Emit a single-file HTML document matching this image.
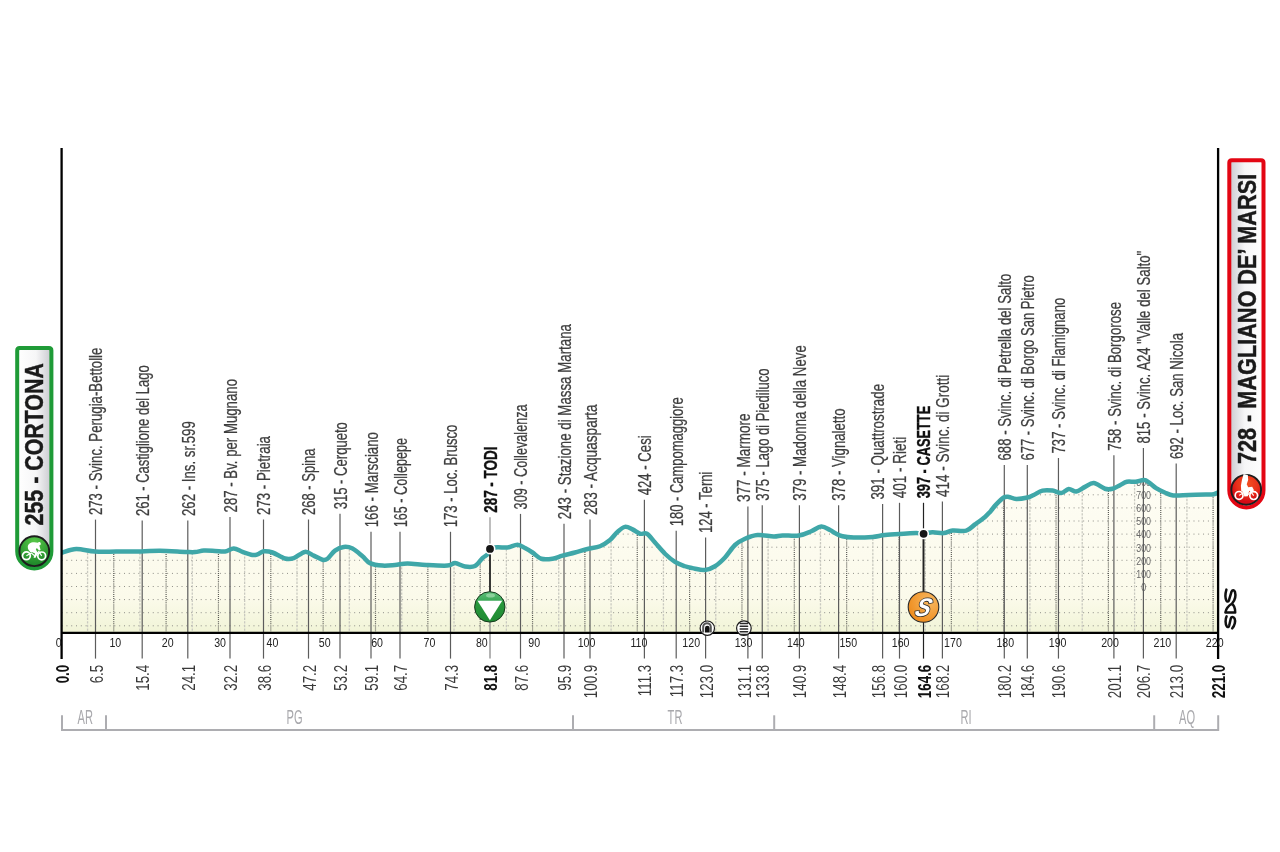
<!DOCTYPE html>
<html><head><meta charset="utf-8"><style>
html,body{margin:0;padding:0;background:#fff;width:1280px;height:852px;overflow:hidden}
svg text{font-family:"Liberation Sans",sans-serif}
svg{will-change:transform}
</style></head><body>
<svg width="1280" height="852" viewBox="0 0 1280 852" style="display:block">
<defs>
<linearGradient id="fg" x1="0" y1="480" x2="0" y2="632" gradientUnits="userSpaceOnUse"><stop offset="0" stop-color="#fefdf4"/><stop offset="0.5" stop-color="#fcfbee"/><stop offset="0.78" stop-color="#fbfaea"/><stop offset="1" stop-color="#f1f4d7"/></linearGradient>
<linearGradient id="bgS" x1="0" y1="0" x2="1" y2="0"><stop offset="0" stop-color="#ffffff"/><stop offset="0.55" stop-color="#f6f6f7"/><stop offset="1" stop-color="#c9c9cf"/></linearGradient>
<linearGradient id="bgF" x1="0" y1="0" x2="1" y2="0"><stop offset="0" stop-color="#c9c9cf"/><stop offset="0.45" stop-color="#f6f6f7"/><stop offset="1" stop-color="#ffffff"/></linearGradient>
<radialGradient id="gG" cx="0.5" cy="0.2" r="0.85"><stop offset="0" stop-color="#58c848"/><stop offset="1" stop-color="#177f26"/></radialGradient>
<radialGradient id="gR" cx="0.55" cy="0.3" r="0.6"><stop offset="0" stop-color="#f25022"/><stop offset="0.6" stop-color="#e8301a"/><stop offset="1" stop-color="#d40a16"/></radialGradient>
<radialGradient id="gO" cx="0.7" cy="0.3" r="0.8"><stop offset="0" stop-color="#f8b860"/><stop offset="1" stop-color="#ee8a1a"/></radialGradient>
<linearGradient id="gS" x1="0" y1="0" x2="0" y2="1"><stop offset="0" stop-color="#5dc07a"/><stop offset="0.3" stop-color="#3aa856"/><stop offset="0.31" stop-color="#2a9a3e"/><stop offset="1" stop-color="#1f8a32"/></linearGradient>

<clipPath id="cp"><path d="M61.60,552.80 C61.75,552.75 60.06,553.13 62.50,552.50 C64.94,551.87 70.83,549.17 76.25,549.00 C81.67,548.83 88.33,551.07 95.00,551.50 C101.67,551.93 108.54,551.60 116.25,551.60 C123.96,551.60 133.96,551.64 141.25,551.50 C148.54,551.36 152.71,550.68 160.00,550.75 C167.29,550.82 179.17,551.67 185.00,551.90 C190.83,552.12 191.88,552.32 195.00,552.10 C198.12,551.88 200.42,550.80 203.75,550.60 C207.08,550.40 211.46,550.75 215.00,550.90 C218.54,551.05 221.88,551.90 225.00,551.50 C228.12,551.10 230.83,548.43 233.75,548.50 C236.67,548.57 239.38,550.82 242.50,551.90 C245.62,552.98 250.00,554.58 252.50,555.00 C255.00,555.42 255.62,555.02 257.50,554.40 C259.38,553.77 261.25,551.57 263.75,551.25 C266.25,550.93 268.96,551.29 272.50,552.50 C276.04,553.71 281.46,557.57 285.00,558.50 C288.54,559.43 290.42,559.20 293.75,558.10 C297.08,557.00 301.67,552.32 305.00,551.90 C308.33,551.48 310.83,554.29 313.75,555.60 C316.67,556.91 320.21,559.23 322.50,559.75 C324.79,560.27 325.42,560.27 327.50,558.75 C329.58,557.23 332.29,552.58 335.00,550.60 C337.71,548.62 340.83,547.25 343.75,546.90 C346.67,546.55 349.38,546.94 352.50,548.50 C355.62,550.06 359.58,553.82 362.50,556.25 C365.42,558.68 366.67,561.54 370.00,563.10 C373.33,564.66 378.33,565.28 382.50,565.60 C386.67,565.92 390.83,565.35 395.00,565.00 C399.17,564.65 402.29,563.50 407.50,563.50 C412.71,563.50 419.58,564.65 426.25,565.00 C432.92,565.35 442.71,565.92 447.50,565.60 C452.29,565.28 452.08,562.95 455.00,563.10 C457.92,563.25 461.67,566.02 465.00,566.50 C468.33,566.98 472.08,567.40 475.00,566.00 C477.92,564.60 480.42,560.03 482.50,558.10 C484.58,556.17 486.25,555.92 487.50,554.40 C488.75,552.88 488.33,550.19 490.00,549.00 C491.67,547.81 494.58,547.50 497.50,547.25 C500.42,547.00 504.17,547.92 507.50,547.50 C510.83,547.08 514.58,544.65 517.50,544.75 C520.42,544.85 522.50,546.81 525.00,548.10 C527.50,549.39 529.79,550.73 532.50,552.50 C535.21,554.27 537.92,557.71 541.25,558.75 C544.58,559.79 548.96,559.27 552.50,558.75 C556.04,558.23 558.75,556.64 562.50,555.60 C566.25,554.56 570.83,553.60 575.00,552.50 C579.17,551.40 583.33,550.04 587.50,549.00 C591.67,547.96 596.25,547.75 600.00,546.25 C603.75,544.75 607.08,542.39 610.00,540.00 C612.92,537.61 615.00,534.08 617.50,531.90 C620.00,529.72 622.50,527.32 625.00,526.90 C627.50,526.48 630.00,528.26 632.50,529.40 C635.00,530.54 637.60,533.02 640.00,533.75 C642.40,534.48 644.40,532.29 646.90,533.75 C649.40,535.21 651.98,539.17 655.00,542.50 C658.02,545.83 661.67,550.52 665.00,553.75 C668.33,556.98 671.67,559.82 675.00,561.90 C678.33,563.98 682.08,565.22 685.00,566.25 C687.92,567.28 689.17,567.48 692.50,568.10 C695.83,568.73 701.25,570.31 705.00,570.00 C708.75,569.69 711.67,568.33 715.00,566.25 C718.33,564.17 721.67,561.04 725.00,557.50 C728.33,553.96 731.67,548.12 735.00,545.00 C738.33,541.88 741.25,540.42 745.00,538.75 C748.75,537.08 752.71,535.38 757.50,535.00 C762.29,534.62 769.58,536.43 773.75,536.50 C777.92,536.57 778.33,535.55 782.50,535.40 C786.67,535.25 793.96,536.29 798.75,535.60 C803.54,534.91 807.50,532.77 811.25,531.25 C815.00,529.73 818.12,526.71 821.25,526.50 C824.38,526.29 827.71,528.90 830.00,530.00 C832.29,531.10 832.92,532.06 835.00,533.10 C837.08,534.14 839.38,535.52 842.50,536.25 C845.62,536.98 848.75,537.39 853.75,537.50 C858.75,537.61 867.29,537.32 872.50,536.90 C877.71,536.48 879.79,535.52 885.00,535.00 C890.21,534.48 898.54,534.07 903.75,533.75 C908.96,533.43 912.96,533.12 916.25,533.10 C919.54,533.08 920.79,533.74 923.50,533.60 C926.21,533.46 929.12,532.33 932.50,532.25 C935.88,532.17 940.42,533.38 943.75,533.10 C947.08,532.83 948.75,531.02 952.50,530.60 C956.25,530.18 962.50,531.63 966.25,530.60 C970.00,529.57 971.88,526.68 975.00,524.40 C978.12,522.12 982.50,518.98 985.00,516.90 C987.50,514.82 988.12,513.98 990.00,511.90 C991.88,509.82 993.96,506.80 996.25,504.40 C998.54,502.00 1001.67,498.75 1003.75,497.50 C1005.83,496.25 1006.67,496.65 1008.75,496.90 C1010.83,497.15 1013.12,498.90 1016.25,499.00 C1019.38,499.10 1024.58,498.17 1027.50,497.50 C1030.42,496.83 1031.25,496.15 1033.75,495.00 C1036.25,493.85 1039.38,491.33 1042.50,490.60 C1045.62,489.87 1049.38,490.18 1052.50,490.60 C1055.62,491.02 1058.54,493.37 1061.25,493.10 C1063.96,492.83 1066.25,489.27 1068.75,489.00 C1071.25,488.73 1073.54,491.85 1076.25,491.50 C1078.96,491.15 1082.08,488.30 1085.00,486.90 C1087.92,485.50 1090.42,482.79 1093.75,483.10 C1097.08,483.41 1101.88,487.81 1105.00,488.75 C1108.12,489.69 1110.00,489.34 1112.50,488.75 C1115.00,488.16 1117.60,486.37 1120.00,485.20 C1122.40,484.03 1124.32,482.32 1126.90,481.75 C1129.48,481.18 1132.65,482.04 1135.50,481.75 C1138.35,481.46 1141.72,479.86 1144.00,480.00 C1146.28,480.14 1147.18,481.23 1149.20,482.60 C1151.22,483.97 1153.52,486.55 1156.10,488.20 C1158.68,489.85 1161.83,491.30 1164.70,492.50 C1167.57,493.70 1169.29,494.98 1173.30,495.40 C1177.31,495.82 1183.32,495.13 1188.75,495.00 C1194.18,494.87 1201.74,494.72 1205.90,494.60 C1210.06,494.48 1211.67,494.67 1213.70,494.30 C1215.73,493.93 1217.37,492.72 1218.10,492.40 L1218.1,632.9 L61.6,632.9 Z"/></clipPath>
</defs>
<rect width="1280" height="852" fill="#fff"/>
<path d="M61.60,552.80 C61.75,552.75 60.06,553.13 62.50,552.50 C64.94,551.87 70.83,549.17 76.25,549.00 C81.67,548.83 88.33,551.07 95.00,551.50 C101.67,551.93 108.54,551.60 116.25,551.60 C123.96,551.60 133.96,551.64 141.25,551.50 C148.54,551.36 152.71,550.68 160.00,550.75 C167.29,550.82 179.17,551.67 185.00,551.90 C190.83,552.12 191.88,552.32 195.00,552.10 C198.12,551.88 200.42,550.80 203.75,550.60 C207.08,550.40 211.46,550.75 215.00,550.90 C218.54,551.05 221.88,551.90 225.00,551.50 C228.12,551.10 230.83,548.43 233.75,548.50 C236.67,548.57 239.38,550.82 242.50,551.90 C245.62,552.98 250.00,554.58 252.50,555.00 C255.00,555.42 255.62,555.02 257.50,554.40 C259.38,553.77 261.25,551.57 263.75,551.25 C266.25,550.93 268.96,551.29 272.50,552.50 C276.04,553.71 281.46,557.57 285.00,558.50 C288.54,559.43 290.42,559.20 293.75,558.10 C297.08,557.00 301.67,552.32 305.00,551.90 C308.33,551.48 310.83,554.29 313.75,555.60 C316.67,556.91 320.21,559.23 322.50,559.75 C324.79,560.27 325.42,560.27 327.50,558.75 C329.58,557.23 332.29,552.58 335.00,550.60 C337.71,548.62 340.83,547.25 343.75,546.90 C346.67,546.55 349.38,546.94 352.50,548.50 C355.62,550.06 359.58,553.82 362.50,556.25 C365.42,558.68 366.67,561.54 370.00,563.10 C373.33,564.66 378.33,565.28 382.50,565.60 C386.67,565.92 390.83,565.35 395.00,565.00 C399.17,564.65 402.29,563.50 407.50,563.50 C412.71,563.50 419.58,564.65 426.25,565.00 C432.92,565.35 442.71,565.92 447.50,565.60 C452.29,565.28 452.08,562.95 455.00,563.10 C457.92,563.25 461.67,566.02 465.00,566.50 C468.33,566.98 472.08,567.40 475.00,566.00 C477.92,564.60 480.42,560.03 482.50,558.10 C484.58,556.17 486.25,555.92 487.50,554.40 C488.75,552.88 488.33,550.19 490.00,549.00 C491.67,547.81 494.58,547.50 497.50,547.25 C500.42,547.00 504.17,547.92 507.50,547.50 C510.83,547.08 514.58,544.65 517.50,544.75 C520.42,544.85 522.50,546.81 525.00,548.10 C527.50,549.39 529.79,550.73 532.50,552.50 C535.21,554.27 537.92,557.71 541.25,558.75 C544.58,559.79 548.96,559.27 552.50,558.75 C556.04,558.23 558.75,556.64 562.50,555.60 C566.25,554.56 570.83,553.60 575.00,552.50 C579.17,551.40 583.33,550.04 587.50,549.00 C591.67,547.96 596.25,547.75 600.00,546.25 C603.75,544.75 607.08,542.39 610.00,540.00 C612.92,537.61 615.00,534.08 617.50,531.90 C620.00,529.72 622.50,527.32 625.00,526.90 C627.50,526.48 630.00,528.26 632.50,529.40 C635.00,530.54 637.60,533.02 640.00,533.75 C642.40,534.48 644.40,532.29 646.90,533.75 C649.40,535.21 651.98,539.17 655.00,542.50 C658.02,545.83 661.67,550.52 665.00,553.75 C668.33,556.98 671.67,559.82 675.00,561.90 C678.33,563.98 682.08,565.22 685.00,566.25 C687.92,567.28 689.17,567.48 692.50,568.10 C695.83,568.73 701.25,570.31 705.00,570.00 C708.75,569.69 711.67,568.33 715.00,566.25 C718.33,564.17 721.67,561.04 725.00,557.50 C728.33,553.96 731.67,548.12 735.00,545.00 C738.33,541.88 741.25,540.42 745.00,538.75 C748.75,537.08 752.71,535.38 757.50,535.00 C762.29,534.62 769.58,536.43 773.75,536.50 C777.92,536.57 778.33,535.55 782.50,535.40 C786.67,535.25 793.96,536.29 798.75,535.60 C803.54,534.91 807.50,532.77 811.25,531.25 C815.00,529.73 818.12,526.71 821.25,526.50 C824.38,526.29 827.71,528.90 830.00,530.00 C832.29,531.10 832.92,532.06 835.00,533.10 C837.08,534.14 839.38,535.52 842.50,536.25 C845.62,536.98 848.75,537.39 853.75,537.50 C858.75,537.61 867.29,537.32 872.50,536.90 C877.71,536.48 879.79,535.52 885.00,535.00 C890.21,534.48 898.54,534.07 903.75,533.75 C908.96,533.43 912.96,533.12 916.25,533.10 C919.54,533.08 920.79,533.74 923.50,533.60 C926.21,533.46 929.12,532.33 932.50,532.25 C935.88,532.17 940.42,533.38 943.75,533.10 C947.08,532.83 948.75,531.02 952.50,530.60 C956.25,530.18 962.50,531.63 966.25,530.60 C970.00,529.57 971.88,526.68 975.00,524.40 C978.12,522.12 982.50,518.98 985.00,516.90 C987.50,514.82 988.12,513.98 990.00,511.90 C991.88,509.82 993.96,506.80 996.25,504.40 C998.54,502.00 1001.67,498.75 1003.75,497.50 C1005.83,496.25 1006.67,496.65 1008.75,496.90 C1010.83,497.15 1013.12,498.90 1016.25,499.00 C1019.38,499.10 1024.58,498.17 1027.50,497.50 C1030.42,496.83 1031.25,496.15 1033.75,495.00 C1036.25,493.85 1039.38,491.33 1042.50,490.60 C1045.62,489.87 1049.38,490.18 1052.50,490.60 C1055.62,491.02 1058.54,493.37 1061.25,493.10 C1063.96,492.83 1066.25,489.27 1068.75,489.00 C1071.25,488.73 1073.54,491.85 1076.25,491.50 C1078.96,491.15 1082.08,488.30 1085.00,486.90 C1087.92,485.50 1090.42,482.79 1093.75,483.10 C1097.08,483.41 1101.88,487.81 1105.00,488.75 C1108.12,489.69 1110.00,489.34 1112.50,488.75 C1115.00,488.16 1117.60,486.37 1120.00,485.20 C1122.40,484.03 1124.32,482.32 1126.90,481.75 C1129.48,481.18 1132.65,482.04 1135.50,481.75 C1138.35,481.46 1141.72,479.86 1144.00,480.00 C1146.28,480.14 1147.18,481.23 1149.20,482.60 C1151.22,483.97 1153.52,486.55 1156.10,488.20 C1158.68,489.85 1161.83,491.30 1164.70,492.50 C1167.57,493.70 1169.29,494.98 1173.30,495.40 C1177.31,495.82 1183.32,495.13 1188.75,495.00 C1194.18,494.87 1201.74,494.72 1205.90,494.60 C1210.06,494.48 1211.67,494.67 1213.70,494.30 C1215.73,493.93 1217.37,492.72 1218.10,492.40 L1218.1,632.9 L61.6,632.9 Z" fill="url(#fg)"/>
<g clip-path="url(#cp)">
<line x1="61.65" y1="625.80" x2="1218" y2="625.80" stroke="#8a8a84" stroke-width="1.0" stroke-dasharray="0.95 3.846"/>
<line x1="61.65" y1="612.70" x2="1218" y2="612.70" stroke="#8a8a84" stroke-width="1.0" stroke-dasharray="0.95 3.846"/>
<line x1="61.65" y1="599.60" x2="1218" y2="599.60" stroke="#8a8a84" stroke-width="1.0" stroke-dasharray="0.95 3.846"/>
<line x1="61.65" y1="586.50" x2="1218" y2="586.50" stroke="#8a8a84" stroke-width="1.0" stroke-dasharray="0.95 3.846"/>
<line x1="61.65" y1="573.40" x2="1218" y2="573.40" stroke="#8a8a84" stroke-width="1.0" stroke-dasharray="0.95 3.846"/>
<line x1="61.65" y1="560.30" x2="1218" y2="560.30" stroke="#8a8a84" stroke-width="1.0" stroke-dasharray="0.95 3.846"/>
<line x1="61.65" y1="547.20" x2="1218" y2="547.20" stroke="#8a8a84" stroke-width="1.0" stroke-dasharray="0.95 3.846"/>
<line x1="61.65" y1="534.10" x2="1218" y2="534.10" stroke="#8a8a84" stroke-width="1.0" stroke-dasharray="0.95 3.846"/>
<line x1="61.65" y1="521.00" x2="1218" y2="521.00" stroke="#8a8a84" stroke-width="1.0" stroke-dasharray="0.95 3.846"/>
<line x1="61.65" y1="507.90" x2="1218" y2="507.90" stroke="#8a8a84" stroke-width="1.0" stroke-dasharray="0.95 3.846"/>
<line x1="61.65" y1="494.80" x2="1218" y2="494.80" stroke="#8a8a84" stroke-width="1.0" stroke-dasharray="0.95 3.846"/>
<line x1="61.65" y1="481.70" x2="1218" y2="481.70" stroke="#8a8a84" stroke-width="1.0" stroke-dasharray="0.95 3.846"/>
<line x1="61.65" y1="468.60" x2="1218" y2="468.60" stroke="#8a8a84" stroke-width="1.0" stroke-dasharray="0.95 3.846"/>
<line x1="87.58" y1="470" x2="87.58" y2="632.9" stroke="#c9c9c0" stroke-width="1.3" stroke-dasharray="2.4 1.2"/>
<line x1="113.75" y1="470" x2="113.75" y2="632.9" stroke="#5a5a55" stroke-width="1.2" stroke-dasharray="1 1.1"/>
<line x1="139.93" y1="470" x2="139.93" y2="632.9" stroke="#c9c9c0" stroke-width="1.3" stroke-dasharray="2.4 1.2"/>
<line x1="166.10" y1="470" x2="166.10" y2="632.9" stroke="#5a5a55" stroke-width="1.2" stroke-dasharray="1 1.1"/>
<line x1="192.28" y1="470" x2="192.28" y2="632.9" stroke="#c9c9c0" stroke-width="1.3" stroke-dasharray="2.4 1.2"/>
<line x1="218.45" y1="470" x2="218.45" y2="632.9" stroke="#5a5a55" stroke-width="1.2" stroke-dasharray="1 1.1"/>
<line x1="244.63" y1="470" x2="244.63" y2="632.9" stroke="#c9c9c0" stroke-width="1.3" stroke-dasharray="2.4 1.2"/>
<line x1="270.80" y1="470" x2="270.80" y2="632.9" stroke="#5a5a55" stroke-width="1.2" stroke-dasharray="1 1.1"/>
<line x1="296.98" y1="470" x2="296.98" y2="632.9" stroke="#c9c9c0" stroke-width="1.3" stroke-dasharray="2.4 1.2"/>
<line x1="323.15" y1="470" x2="323.15" y2="632.9" stroke="#5a5a55" stroke-width="1.2" stroke-dasharray="1 1.1"/>
<line x1="349.32" y1="470" x2="349.32" y2="632.9" stroke="#c9c9c0" stroke-width="1.3" stroke-dasharray="2.4 1.2"/>
<line x1="375.50" y1="470" x2="375.50" y2="632.9" stroke="#5a5a55" stroke-width="1.2" stroke-dasharray="1 1.1"/>
<line x1="401.68" y1="470" x2="401.68" y2="632.9" stroke="#c9c9c0" stroke-width="1.3" stroke-dasharray="2.4 1.2"/>
<line x1="427.85" y1="470" x2="427.85" y2="632.9" stroke="#5a5a55" stroke-width="1.2" stroke-dasharray="1 1.1"/>
<line x1="454.02" y1="470" x2="454.02" y2="632.9" stroke="#c9c9c0" stroke-width="1.3" stroke-dasharray="2.4 1.2"/>
<line x1="480.20" y1="470" x2="480.20" y2="632.9" stroke="#5a5a55" stroke-width="1.2" stroke-dasharray="1 1.1"/>
<line x1="506.38" y1="470" x2="506.38" y2="632.9" stroke="#c9c9c0" stroke-width="1.3" stroke-dasharray="2.4 1.2"/>
<line x1="532.55" y1="470" x2="532.55" y2="632.9" stroke="#5a5a55" stroke-width="1.2" stroke-dasharray="1 1.1"/>
<line x1="558.73" y1="470" x2="558.73" y2="632.9" stroke="#c9c9c0" stroke-width="1.3" stroke-dasharray="2.4 1.2"/>
<line x1="584.90" y1="470" x2="584.90" y2="632.9" stroke="#5a5a55" stroke-width="1.2" stroke-dasharray="1 1.1"/>
<line x1="611.08" y1="470" x2="611.08" y2="632.9" stroke="#c9c9c0" stroke-width="1.3" stroke-dasharray="2.4 1.2"/>
<line x1="637.25" y1="470" x2="637.25" y2="632.9" stroke="#5a5a55" stroke-width="1.2" stroke-dasharray="1 1.1"/>
<line x1="663.43" y1="470" x2="663.43" y2="632.9" stroke="#c9c9c0" stroke-width="1.3" stroke-dasharray="2.4 1.2"/>
<line x1="689.60" y1="470" x2="689.60" y2="632.9" stroke="#5a5a55" stroke-width="1.2" stroke-dasharray="1 1.1"/>
<line x1="715.77" y1="470" x2="715.77" y2="632.9" stroke="#c9c9c0" stroke-width="1.3" stroke-dasharray="2.4 1.2"/>
<line x1="741.95" y1="470" x2="741.95" y2="632.9" stroke="#5a5a55" stroke-width="1.2" stroke-dasharray="1 1.1"/>
<line x1="768.12" y1="470" x2="768.12" y2="632.9" stroke="#c9c9c0" stroke-width="1.3" stroke-dasharray="2.4 1.2"/>
<line x1="794.30" y1="470" x2="794.30" y2="632.9" stroke="#5a5a55" stroke-width="1.2" stroke-dasharray="1 1.1"/>
<line x1="820.48" y1="470" x2="820.48" y2="632.9" stroke="#c9c9c0" stroke-width="1.3" stroke-dasharray="2.4 1.2"/>
<line x1="846.65" y1="470" x2="846.65" y2="632.9" stroke="#5a5a55" stroke-width="1.2" stroke-dasharray="1 1.1"/>
<line x1="872.83" y1="470" x2="872.83" y2="632.9" stroke="#c9c9c0" stroke-width="1.3" stroke-dasharray="2.4 1.2"/>
<line x1="899.00" y1="470" x2="899.00" y2="632.9" stroke="#5a5a55" stroke-width="1.2" stroke-dasharray="1 1.1"/>
<line x1="925.18" y1="470" x2="925.18" y2="632.9" stroke="#c9c9c0" stroke-width="1.3" stroke-dasharray="2.4 1.2"/>
<line x1="951.35" y1="470" x2="951.35" y2="632.9" stroke="#5a5a55" stroke-width="1.2" stroke-dasharray="1 1.1"/>
<line x1="977.52" y1="470" x2="977.52" y2="632.9" stroke="#c9c9c0" stroke-width="1.3" stroke-dasharray="2.4 1.2"/>
<line x1="1003.70" y1="470" x2="1003.70" y2="632.9" stroke="#5a5a55" stroke-width="1.2" stroke-dasharray="1 1.1"/>
<line x1="1029.88" y1="470" x2="1029.88" y2="632.9" stroke="#c9c9c0" stroke-width="1.3" stroke-dasharray="2.4 1.2"/>
<line x1="1056.05" y1="470" x2="1056.05" y2="632.9" stroke="#5a5a55" stroke-width="1.2" stroke-dasharray="1 1.1"/>
<line x1="1082.23" y1="470" x2="1082.23" y2="632.9" stroke="#c9c9c0" stroke-width="1.3" stroke-dasharray="2.4 1.2"/>
<line x1="1108.40" y1="470" x2="1108.40" y2="632.9" stroke="#5a5a55" stroke-width="1.2" stroke-dasharray="1 1.1"/>
<line x1="1134.58" y1="470" x2="1134.58" y2="632.9" stroke="#c9c9c0" stroke-width="1.3" stroke-dasharray="2.4 1.2"/>
<line x1="1160.75" y1="470" x2="1160.75" y2="632.9" stroke="#5a5a55" stroke-width="1.2" stroke-dasharray="1 1.1"/>
<line x1="1186.93" y1="470" x2="1186.93" y2="632.9" stroke="#c9c9c0" stroke-width="1.3" stroke-dasharray="2.4 1.2"/>
<line x1="1213.10" y1="470" x2="1213.10" y2="632.9" stroke="#5a5a55" stroke-width="1.2" stroke-dasharray="1 1.1"/>
<text x="1141.15" y="590.80" font-size="10.8" textLength="4.91" lengthAdjust="spacingAndGlyphs" fill="#686868">0</text>
<text x="1136.24" y="577.70" font-size="10.8" textLength="14.72" lengthAdjust="spacingAndGlyphs" fill="#686868">100</text>
<text x="1136.24" y="564.60" font-size="10.8" textLength="14.72" lengthAdjust="spacingAndGlyphs" fill="#686868">200</text>
<text x="1136.24" y="551.50" font-size="10.8" textLength="14.72" lengthAdjust="spacingAndGlyphs" fill="#686868">300</text>
<text x="1136.24" y="538.40" font-size="10.8" textLength="14.72" lengthAdjust="spacingAndGlyphs" fill="#686868">400</text>
<text x="1136.24" y="525.30" font-size="10.8" textLength="14.72" lengthAdjust="spacingAndGlyphs" fill="#686868">500</text>
<text x="1136.24" y="512.20" font-size="10.8" textLength="14.72" lengthAdjust="spacingAndGlyphs" fill="#686868">600</text>
<text x="1136.24" y="499.10" font-size="10.8" textLength="14.72" lengthAdjust="spacingAndGlyphs" fill="#686868">700</text>
<text x="1136.24" y="486.00" font-size="10.8" textLength="14.72" lengthAdjust="spacingAndGlyphs" fill="#686868">800</text>
</g>
<line x1="95.5" y1="519.60" x2="95.5" y2="658.6" stroke="#5c5c5c" stroke-width="1.2"/>
<line x1="142.2" y1="520.50" x2="142.2" y2="658.6" stroke="#5c5c5c" stroke-width="1.2"/>
<line x1="187.8" y1="520.50" x2="187.8" y2="658.6" stroke="#5c5c5c" stroke-width="1.2"/>
<line x1="230.0" y1="516.90" x2="230.0" y2="658.6" stroke="#5c5c5c" stroke-width="1.2"/>
<line x1="263.5" y1="519.50" x2="263.5" y2="658.6" stroke="#5c5c5c" stroke-width="1.2"/>
<line x1="308.5" y1="519.50" x2="308.5" y2="658.6" stroke="#5c5c5c" stroke-width="1.2"/>
<line x1="340.0" y1="513.80" x2="340.0" y2="658.6" stroke="#5c5c5c" stroke-width="1.2"/>
<line x1="371.0" y1="531.80" x2="371.0" y2="658.6" stroke="#5c5c5c" stroke-width="1.2"/>
<line x1="400.0" y1="531.80" x2="400.0" y2="658.6" stroke="#5c5c5c" stroke-width="1.2"/>
<line x1="450.5" y1="531.80" x2="450.5" y2="658.6" stroke="#5c5c5c" stroke-width="1.2"/>
<line x1="490.0" y1="517.30" x2="490.0" y2="545" stroke="#a2a2a2" stroke-width="1.4"/>
<line x1="490.0" y1="620" x2="490.0" y2="658.6" stroke="#8a8a8a" stroke-width="1.3"/>
<line x1="520.5" y1="513.90" x2="520.5" y2="658.6" stroke="#5c5c5c" stroke-width="1.2"/>
<line x1="564.0" y1="523.70" x2="564.0" y2="658.6" stroke="#5c5c5c" stroke-width="1.2"/>
<line x1="590.0" y1="519.50" x2="590.0" y2="658.6" stroke="#5c5c5c" stroke-width="1.2"/>
<line x1="644.4" y1="499.80" x2="644.4" y2="658.6" stroke="#5c5c5c" stroke-width="1.2"/>
<line x1="676.2" y1="530.80" x2="676.2" y2="658.6" stroke="#5c5c5c" stroke-width="1.2"/>
<line x1="705.6" y1="537.60" x2="705.6" y2="658.6" stroke="#5c5c5c" stroke-width="1.2"/>
<line x1="747.9" y1="506.60" x2="747.9" y2="658.6" stroke="#5c5c5c" stroke-width="1.2"/>
<line x1="762.25" y1="505.30" x2="762.25" y2="658.6" stroke="#5c5c5c" stroke-width="1.2"/>
<line x1="799.4" y1="505.30" x2="799.4" y2="658.6" stroke="#5c5c5c" stroke-width="1.2"/>
<line x1="838.6" y1="505.30" x2="838.6" y2="658.6" stroke="#5c5c5c" stroke-width="1.2"/>
<line x1="882.6" y1="504.05" x2="882.6" y2="658.6" stroke="#5c5c5c" stroke-width="1.2"/>
<line x1="899.5" y1="502.80" x2="899.5" y2="658.6" stroke="#5c5c5c" stroke-width="1.2"/>
<line x1="923.5" y1="502.80" x2="923.5" y2="658.6" stroke="#222" stroke-width="1.2"/>
<line x1="942.4" y1="501.50" x2="942.4" y2="658.6" stroke="#5c5c5c" stroke-width="1.2"/>
<line x1="1004.3" y1="465.00" x2="1004.3" y2="658.6" stroke="#5c5c5c" stroke-width="1.2"/>
<line x1="1027.3" y1="465.00" x2="1027.3" y2="658.6" stroke="#5c5c5c" stroke-width="1.2"/>
<line x1="1058.45" y1="458.00" x2="1058.45" y2="658.6" stroke="#5c5c5c" stroke-width="1.2"/>
<line x1="1113.9" y1="455.20" x2="1113.9" y2="658.6" stroke="#5c5c5c" stroke-width="1.2"/>
<line x1="1143.4" y1="448.10" x2="1143.4" y2="658.6" stroke="#5c5c5c" stroke-width="1.2"/>
<line x1="1176.2" y1="463.60" x2="1176.2" y2="658.6" stroke="#5c5c5c" stroke-width="1.2"/>
<clipPath id="cl"><rect x="61.6" y="0" width="1156.5" height="852"/></clipPath>
<path d="M61.60,552.80 C61.75,552.75 60.06,553.13 62.50,552.50 C64.94,551.87 70.83,549.17 76.25,549.00 C81.67,548.83 88.33,551.07 95.00,551.50 C101.67,551.93 108.54,551.60 116.25,551.60 C123.96,551.60 133.96,551.64 141.25,551.50 C148.54,551.36 152.71,550.68 160.00,550.75 C167.29,550.82 179.17,551.67 185.00,551.90 C190.83,552.12 191.88,552.32 195.00,552.10 C198.12,551.88 200.42,550.80 203.75,550.60 C207.08,550.40 211.46,550.75 215.00,550.90 C218.54,551.05 221.88,551.90 225.00,551.50 C228.12,551.10 230.83,548.43 233.75,548.50 C236.67,548.57 239.38,550.82 242.50,551.90 C245.62,552.98 250.00,554.58 252.50,555.00 C255.00,555.42 255.62,555.02 257.50,554.40 C259.38,553.77 261.25,551.57 263.75,551.25 C266.25,550.93 268.96,551.29 272.50,552.50 C276.04,553.71 281.46,557.57 285.00,558.50 C288.54,559.43 290.42,559.20 293.75,558.10 C297.08,557.00 301.67,552.32 305.00,551.90 C308.33,551.48 310.83,554.29 313.75,555.60 C316.67,556.91 320.21,559.23 322.50,559.75 C324.79,560.27 325.42,560.27 327.50,558.75 C329.58,557.23 332.29,552.58 335.00,550.60 C337.71,548.62 340.83,547.25 343.75,546.90 C346.67,546.55 349.38,546.94 352.50,548.50 C355.62,550.06 359.58,553.82 362.50,556.25 C365.42,558.68 366.67,561.54 370.00,563.10 C373.33,564.66 378.33,565.28 382.50,565.60 C386.67,565.92 390.83,565.35 395.00,565.00 C399.17,564.65 402.29,563.50 407.50,563.50 C412.71,563.50 419.58,564.65 426.25,565.00 C432.92,565.35 442.71,565.92 447.50,565.60 C452.29,565.28 452.08,562.95 455.00,563.10 C457.92,563.25 461.67,566.02 465.00,566.50 C468.33,566.98 472.08,567.40 475.00,566.00 C477.92,564.60 480.42,560.03 482.50,558.10 C484.58,556.17 486.25,555.92 487.50,554.40 C488.75,552.88 488.33,550.19 490.00,549.00 C491.67,547.81 494.58,547.50 497.50,547.25 C500.42,547.00 504.17,547.92 507.50,547.50 C510.83,547.08 514.58,544.65 517.50,544.75 C520.42,544.85 522.50,546.81 525.00,548.10 C527.50,549.39 529.79,550.73 532.50,552.50 C535.21,554.27 537.92,557.71 541.25,558.75 C544.58,559.79 548.96,559.27 552.50,558.75 C556.04,558.23 558.75,556.64 562.50,555.60 C566.25,554.56 570.83,553.60 575.00,552.50 C579.17,551.40 583.33,550.04 587.50,549.00 C591.67,547.96 596.25,547.75 600.00,546.25 C603.75,544.75 607.08,542.39 610.00,540.00 C612.92,537.61 615.00,534.08 617.50,531.90 C620.00,529.72 622.50,527.32 625.00,526.90 C627.50,526.48 630.00,528.26 632.50,529.40 C635.00,530.54 637.60,533.02 640.00,533.75 C642.40,534.48 644.40,532.29 646.90,533.75 C649.40,535.21 651.98,539.17 655.00,542.50 C658.02,545.83 661.67,550.52 665.00,553.75 C668.33,556.98 671.67,559.82 675.00,561.90 C678.33,563.98 682.08,565.22 685.00,566.25 C687.92,567.28 689.17,567.48 692.50,568.10 C695.83,568.73 701.25,570.31 705.00,570.00 C708.75,569.69 711.67,568.33 715.00,566.25 C718.33,564.17 721.67,561.04 725.00,557.50 C728.33,553.96 731.67,548.12 735.00,545.00 C738.33,541.88 741.25,540.42 745.00,538.75 C748.75,537.08 752.71,535.38 757.50,535.00 C762.29,534.62 769.58,536.43 773.75,536.50 C777.92,536.57 778.33,535.55 782.50,535.40 C786.67,535.25 793.96,536.29 798.75,535.60 C803.54,534.91 807.50,532.77 811.25,531.25 C815.00,529.73 818.12,526.71 821.25,526.50 C824.38,526.29 827.71,528.90 830.00,530.00 C832.29,531.10 832.92,532.06 835.00,533.10 C837.08,534.14 839.38,535.52 842.50,536.25 C845.62,536.98 848.75,537.39 853.75,537.50 C858.75,537.61 867.29,537.32 872.50,536.90 C877.71,536.48 879.79,535.52 885.00,535.00 C890.21,534.48 898.54,534.07 903.75,533.75 C908.96,533.43 912.96,533.12 916.25,533.10 C919.54,533.08 920.79,533.74 923.50,533.60 C926.21,533.46 929.12,532.33 932.50,532.25 C935.88,532.17 940.42,533.38 943.75,533.10 C947.08,532.83 948.75,531.02 952.50,530.60 C956.25,530.18 962.50,531.63 966.25,530.60 C970.00,529.57 971.88,526.68 975.00,524.40 C978.12,522.12 982.50,518.98 985.00,516.90 C987.50,514.82 988.12,513.98 990.00,511.90 C991.88,509.82 993.96,506.80 996.25,504.40 C998.54,502.00 1001.67,498.75 1003.75,497.50 C1005.83,496.25 1006.67,496.65 1008.75,496.90 C1010.83,497.15 1013.12,498.90 1016.25,499.00 C1019.38,499.10 1024.58,498.17 1027.50,497.50 C1030.42,496.83 1031.25,496.15 1033.75,495.00 C1036.25,493.85 1039.38,491.33 1042.50,490.60 C1045.62,489.87 1049.38,490.18 1052.50,490.60 C1055.62,491.02 1058.54,493.37 1061.25,493.10 C1063.96,492.83 1066.25,489.27 1068.75,489.00 C1071.25,488.73 1073.54,491.85 1076.25,491.50 C1078.96,491.15 1082.08,488.30 1085.00,486.90 C1087.92,485.50 1090.42,482.79 1093.75,483.10 C1097.08,483.41 1101.88,487.81 1105.00,488.75 C1108.12,489.69 1110.00,489.34 1112.50,488.75 C1115.00,488.16 1117.60,486.37 1120.00,485.20 C1122.40,484.03 1124.32,482.32 1126.90,481.75 C1129.48,481.18 1132.65,482.04 1135.50,481.75 C1138.35,481.46 1141.72,479.86 1144.00,480.00 C1146.28,480.14 1147.18,481.23 1149.20,482.60 C1151.22,483.97 1153.52,486.55 1156.10,488.20 C1158.68,489.85 1161.83,491.30 1164.70,492.50 C1167.57,493.70 1169.29,494.98 1173.30,495.40 C1177.31,495.82 1183.32,495.13 1188.75,495.00 C1194.18,494.87 1201.74,494.72 1205.90,494.60 C1210.06,494.48 1211.67,494.67 1213.70,494.30 C1215.73,493.93 1217.37,492.72 1218.10,492.40" fill="none" stroke="#3fa7a8" stroke-width="4.5" stroke-linejoin="round" stroke-linecap="butt" clip-path="url(#cl)"/>
<line x1="61.6" y1="148" x2="61.6" y2="659" stroke="#000" stroke-width="2.3"/>
<line x1="1218.1" y1="148" x2="1218.1" y2="659" stroke="#000" stroke-width="2.3"/>
<line x1="61.6" y1="632.9" x2="1218.1" y2="632.9" stroke="#000" stroke-width="2.3"/>
<text transform="translate(102.25,515.10) rotate(-90)" font-size="19.0" fill="#3e3e3e" stroke="#3e3e3e" stroke-width="0.25" textLength="167.50" lengthAdjust="spacingAndGlyphs">273 - Svinc. Perugia-Bettolle</text>
<text transform="translate(148.95,516.00) rotate(-90)" font-size="19.0" fill="#3e3e3e" stroke="#3e3e3e" stroke-width="0.25" textLength="150.68" lengthAdjust="spacingAndGlyphs">261 - Castiglione del Lago</text>
<text transform="translate(194.55,516.00) rotate(-90)" font-size="19.0" fill="#3e3e3e" stroke="#3e3e3e" stroke-width="0.25" textLength="94.83" lengthAdjust="spacingAndGlyphs">262 - Ins. sr.599</text>
<text transform="translate(236.75,512.40) rotate(-90)" font-size="19.0" fill="#3e3e3e" stroke="#3e3e3e" stroke-width="0.25" textLength="133.38" lengthAdjust="spacingAndGlyphs">287 - Bv. per Mugnano</text>
<text transform="translate(270.25,515.00) rotate(-90)" font-size="19.0" fill="#3e3e3e" stroke="#3e3e3e" stroke-width="0.25" textLength="79.01" lengthAdjust="spacingAndGlyphs">273 - Pietraia</text>
<text transform="translate(315.25,515.00) rotate(-90)" font-size="19.0" fill="#3e3e3e" stroke="#3e3e3e" stroke-width="0.25" textLength="66.49" lengthAdjust="spacingAndGlyphs">268 - Spina</text>
<text transform="translate(346.75,509.30) rotate(-90)" font-size="19.0" fill="#3e3e3e" stroke="#3e3e3e" stroke-width="0.25" textLength="87.13" lengthAdjust="spacingAndGlyphs">315 - Cerqueto</text>
<text transform="translate(377.75,527.30) rotate(-90)" font-size="19.0" fill="#3e3e3e" stroke="#3e3e3e" stroke-width="0.25" textLength="95.32" lengthAdjust="spacingAndGlyphs">166 - Marsciano</text>
<text transform="translate(406.75,527.30) rotate(-90)" font-size="19.0" fill="#3e3e3e" stroke="#3e3e3e" stroke-width="0.25" textLength="89.47" lengthAdjust="spacingAndGlyphs">165 - Collepepe</text>
<text transform="translate(457.25,527.30) rotate(-90)" font-size="19.0" fill="#3e3e3e" stroke="#3e3e3e" stroke-width="0.25" textLength="102.61" lengthAdjust="spacingAndGlyphs">173 - Loc. Brusco</text>
<text transform="translate(496.75,512.80) rotate(-90)" font-size="19.0" font-weight="bold" fill="#111" stroke="#111" stroke-width="0.35" textLength="66.22" lengthAdjust="spacingAndGlyphs">287 - TODI</text>
<text transform="translate(527.25,509.40) rotate(-90)" font-size="19.0" fill="#3e3e3e" stroke="#3e3e3e" stroke-width="0.25" textLength="105.08" lengthAdjust="spacingAndGlyphs">309 - Collevalenza</text>
<text transform="translate(570.75,519.20) rotate(-90)" font-size="19.0" fill="#3e3e3e" stroke="#3e3e3e" stroke-width="0.25" textLength="195.21" lengthAdjust="spacingAndGlyphs">243 - Stazione di Massa Martana</text>
<text transform="translate(596.75,515.00) rotate(-90)" font-size="19.0" fill="#3e3e3e" stroke="#3e3e3e" stroke-width="0.25" textLength="110.64" lengthAdjust="spacingAndGlyphs">283 - Acquasparta</text>
<text transform="translate(651.15,495.30) rotate(-90)" font-size="19.0" fill="#3e3e3e" stroke="#3e3e3e" stroke-width="0.25" textLength="60.00" lengthAdjust="spacingAndGlyphs">424 - Cesi</text>
<text transform="translate(682.95,526.30) rotate(-90)" font-size="19.0" fill="#3e3e3e" stroke="#3e3e3e" stroke-width="0.25" textLength="129.13" lengthAdjust="spacingAndGlyphs">180 - Campomaggiore</text>
<text transform="translate(712.35,533.10) rotate(-90)" font-size="19.0" fill="#3e3e3e" stroke="#3e3e3e" stroke-width="0.25" textLength="61.52" lengthAdjust="spacingAndGlyphs">124 - Terni</text>
<text transform="translate(749.75,502.10) rotate(-90)" font-size="19.0" fill="#3e3e3e" stroke="#3e3e3e" stroke-width="0.25" textLength="88.49" lengthAdjust="spacingAndGlyphs">377 - Marmore</text>
<text transform="translate(769.00,500.80) rotate(-90)" font-size="19.0" fill="#3e3e3e" stroke="#3e3e3e" stroke-width="0.25" textLength="132.40" lengthAdjust="spacingAndGlyphs">375 - Lago di Piediluco</text>
<text transform="translate(806.15,500.80) rotate(-90)" font-size="19.0" fill="#3e3e3e" stroke="#3e3e3e" stroke-width="0.25" textLength="155.58" lengthAdjust="spacingAndGlyphs">379 - Madonna della Neve</text>
<text transform="translate(845.35,500.80) rotate(-90)" font-size="19.0" fill="#3e3e3e" stroke="#3e3e3e" stroke-width="0.25" textLength="92.37" lengthAdjust="spacingAndGlyphs">378 - Vignaletto</text>
<text transform="translate(884.45,499.55) rotate(-90)" font-size="19.0" fill="#3e3e3e" stroke="#3e3e3e" stroke-width="0.25" textLength="115.62" lengthAdjust="spacingAndGlyphs">391 - Quattrostrade</text>
<text transform="translate(906.25,498.30) rotate(-90)" font-size="19.0" fill="#3e3e3e" stroke="#3e3e3e" stroke-width="0.25" textLength="61.50" lengthAdjust="spacingAndGlyphs">401 - Rieti</text>
<text transform="translate(930.25,498.30) rotate(-90)" font-size="19.0" font-weight="bold" fill="#111" stroke="#111" stroke-width="0.35" textLength="92.47" lengthAdjust="spacingAndGlyphs">397 - CASETTE</text>
<text transform="translate(949.15,497.00) rotate(-90)" font-size="19.0" fill="#3e3e3e" stroke="#3e3e3e" stroke-width="0.25" textLength="122.21" lengthAdjust="spacingAndGlyphs">414 - Svinc. di Grotti</text>
<text transform="translate(1011.05,460.50) rotate(-90)" font-size="19.0" fill="#3e3e3e" stroke="#3e3e3e" stroke-width="0.25" textLength="186.71" lengthAdjust="spacingAndGlyphs">688 - Svinc. di Petrella del Salto</text>
<text transform="translate(1034.05,460.50) rotate(-90)" font-size="19.0" fill="#3e3e3e" stroke="#3e3e3e" stroke-width="0.25" textLength="185.28" lengthAdjust="spacingAndGlyphs">677 - Svinc. di Borgo San Pietro</text>
<text transform="translate(1065.20,453.50) rotate(-90)" font-size="19.0" fill="#3e3e3e" stroke="#3e3e3e" stroke-width="0.25" textLength="155.77" lengthAdjust="spacingAndGlyphs">737 - Svinc. di Flamignano</text>
<text transform="translate(1120.65,450.70) rotate(-90)" font-size="19.0" fill="#3e3e3e" stroke="#3e3e3e" stroke-width="0.25" textLength="148.72" lengthAdjust="spacingAndGlyphs">758 - Svinc. di Borgorose</text>
<text transform="translate(1150.15,443.60) rotate(-90)" font-size="19.0" fill="#3e3e3e" stroke="#3e3e3e" stroke-width="0.25" textLength="192.90" lengthAdjust="spacingAndGlyphs">815 - Svinc. A24 &quot;Valle del Salto&quot;</text>
<text transform="translate(1182.95,459.10) rotate(-90)" font-size="19.0" fill="#3e3e3e" stroke="#3e3e3e" stroke-width="0.25" textLength="126.07" lengthAdjust="spacingAndGlyphs">692 - Loc. San Nicola</text>
<text transform="translate(68.60,683.36) rotate(-90)" font-size="19.2" font-weight="bold" fill="#111" textLength="18.55" lengthAdjust="spacingAndGlyphs">0.0</text>
<text transform="translate(102.50,683.36) rotate(-90)" font-size="19.2" fill="#3a3a3a" textLength="18.55" lengthAdjust="spacingAndGlyphs">6.5</text>
<text transform="translate(149.20,690.79) rotate(-90)" font-size="19.2" fill="#3a3a3a" textLength="25.97" lengthAdjust="spacingAndGlyphs">15.4</text>
<text transform="translate(194.80,690.79) rotate(-90)" font-size="19.2" fill="#3a3a3a" textLength="25.97" lengthAdjust="spacingAndGlyphs">24.1</text>
<text transform="translate(237.00,690.79) rotate(-90)" font-size="19.2" fill="#3a3a3a" textLength="25.97" lengthAdjust="spacingAndGlyphs">32.2</text>
<text transform="translate(270.50,690.79) rotate(-90)" font-size="19.2" fill="#3a3a3a" textLength="25.97" lengthAdjust="spacingAndGlyphs">38.6</text>
<text transform="translate(315.50,690.79) rotate(-90)" font-size="19.2" fill="#3a3a3a" textLength="25.97" lengthAdjust="spacingAndGlyphs">47.2</text>
<text transform="translate(347.00,690.79) rotate(-90)" font-size="19.2" fill="#3a3a3a" textLength="25.97" lengthAdjust="spacingAndGlyphs">53.2</text>
<text transform="translate(378.00,690.79) rotate(-90)" font-size="19.2" fill="#3a3a3a" textLength="25.97" lengthAdjust="spacingAndGlyphs">59.1</text>
<text transform="translate(407.00,690.79) rotate(-90)" font-size="19.2" fill="#3a3a3a" textLength="25.97" lengthAdjust="spacingAndGlyphs">64.7</text>
<text transform="translate(457.50,690.79) rotate(-90)" font-size="19.2" fill="#3a3a3a" textLength="25.97" lengthAdjust="spacingAndGlyphs">74.3</text>
<text transform="translate(497.00,690.79) rotate(-90)" font-size="19.2" font-weight="bold" fill="#111" textLength="25.97" lengthAdjust="spacingAndGlyphs">81.8</text>
<text transform="translate(527.50,690.79) rotate(-90)" font-size="19.2" fill="#3a3a3a" textLength="25.97" lengthAdjust="spacingAndGlyphs">87.6</text>
<text transform="translate(571.00,690.79) rotate(-90)" font-size="19.2" fill="#3a3a3a" textLength="25.97" lengthAdjust="spacingAndGlyphs">95.9</text>
<text transform="translate(597.00,698.16) rotate(-90)" font-size="19.2" fill="#3a3a3a" textLength="33.39" lengthAdjust="spacingAndGlyphs">100.9</text>
<text transform="translate(651.40,696.21) rotate(-90)" font-size="19.2" fill="#3a3a3a" textLength="31.41" lengthAdjust="spacingAndGlyphs">111.3</text>
<text transform="translate(683.20,697.19) rotate(-90)" font-size="19.2" fill="#3a3a3a" textLength="32.40" lengthAdjust="spacingAndGlyphs">117.3</text>
<text transform="translate(712.60,698.16) rotate(-90)" font-size="19.2" fill="#3a3a3a" textLength="33.39" lengthAdjust="spacingAndGlyphs">123.0</text>
<text transform="translate(750.60,698.16) rotate(-90)" font-size="19.2" fill="#3a3a3a" textLength="33.39" lengthAdjust="spacingAndGlyphs">131.1</text>
<text transform="translate(769.25,698.16) rotate(-90)" font-size="19.2" fill="#3a3a3a" textLength="33.39" lengthAdjust="spacingAndGlyphs">133.8</text>
<text transform="translate(806.40,698.16) rotate(-90)" font-size="19.2" fill="#3a3a3a" textLength="33.39" lengthAdjust="spacingAndGlyphs">140.9</text>
<text transform="translate(845.60,698.16) rotate(-90)" font-size="19.2" fill="#3a3a3a" textLength="33.39" lengthAdjust="spacingAndGlyphs">148.4</text>
<text transform="translate(885.10,698.16) rotate(-90)" font-size="19.2" fill="#3a3a3a" textLength="33.39" lengthAdjust="spacingAndGlyphs">156.8</text>
<text transform="translate(906.50,698.16) rotate(-90)" font-size="19.2" fill="#3a3a3a" textLength="33.39" lengthAdjust="spacingAndGlyphs">160.0</text>
<text transform="translate(930.50,698.16) rotate(-90)" font-size="19.2" font-weight="bold" fill="#111" textLength="33.39" lengthAdjust="spacingAndGlyphs">164.6</text>
<text transform="translate(949.40,698.16) rotate(-90)" font-size="19.2" fill="#3a3a3a" textLength="33.39" lengthAdjust="spacingAndGlyphs">168.2</text>
<text transform="translate(1011.30,698.16) rotate(-90)" font-size="19.2" fill="#3a3a3a" textLength="33.39" lengthAdjust="spacingAndGlyphs">180.2</text>
<text transform="translate(1034.30,698.16) rotate(-90)" font-size="19.2" fill="#3a3a3a" textLength="33.39" lengthAdjust="spacingAndGlyphs">184.6</text>
<text transform="translate(1065.45,698.16) rotate(-90)" font-size="19.2" fill="#3a3a3a" textLength="33.39" lengthAdjust="spacingAndGlyphs">190.6</text>
<text transform="translate(1120.90,698.16) rotate(-90)" font-size="19.2" fill="#3a3a3a" textLength="33.39" lengthAdjust="spacingAndGlyphs">201.1</text>
<text transform="translate(1150.40,698.16) rotate(-90)" font-size="19.2" fill="#3a3a3a" textLength="33.39" lengthAdjust="spacingAndGlyphs">206.7</text>
<text transform="translate(1183.20,698.16) rotate(-90)" font-size="19.2" fill="#3a3a3a" textLength="33.39" lengthAdjust="spacingAndGlyphs">213.0</text>
<text transform="translate(1225.10,698.16) rotate(-90)" font-size="19.2" font-weight="bold" fill="#111" textLength="33.39" lengthAdjust="spacingAndGlyphs">221.0</text>
<text x="55.75" y="646.6" font-size="13.6" textLength="5.90" lengthAdjust="spacingAndGlyphs" fill="#222">0</text>
<text x="109.45" y="646.6" font-size="13.6" textLength="11.80" lengthAdjust="spacingAndGlyphs" fill="#222">10</text>
<text x="161.80" y="646.6" font-size="13.6" textLength="11.80" lengthAdjust="spacingAndGlyphs" fill="#222">20</text>
<text x="214.15" y="646.6" font-size="13.6" textLength="11.80" lengthAdjust="spacingAndGlyphs" fill="#222">30</text>
<text x="266.50" y="646.6" font-size="13.6" textLength="11.80" lengthAdjust="spacingAndGlyphs" fill="#222">40</text>
<text x="318.85" y="646.6" font-size="13.6" textLength="11.80" lengthAdjust="spacingAndGlyphs" fill="#222">50</text>
<text x="371.20" y="646.6" font-size="13.6" textLength="11.80" lengthAdjust="spacingAndGlyphs" fill="#222">60</text>
<text x="423.55" y="646.6" font-size="13.6" textLength="11.80" lengthAdjust="spacingAndGlyphs" fill="#222">70</text>
<text x="475.90" y="646.6" font-size="13.6" textLength="11.80" lengthAdjust="spacingAndGlyphs" fill="#222">80</text>
<text x="528.25" y="646.6" font-size="13.6" textLength="11.80" lengthAdjust="spacingAndGlyphs" fill="#222">90</text>
<text x="577.65" y="646.6" font-size="13.6" textLength="17.70" lengthAdjust="spacingAndGlyphs" fill="#222">100</text>
<text x="630.39" y="646.6" font-size="13.6" textLength="16.91" lengthAdjust="spacingAndGlyphs" fill="#222">110</text>
<text x="682.35" y="646.6" font-size="13.6" textLength="17.70" lengthAdjust="spacingAndGlyphs" fill="#222">120</text>
<text x="734.70" y="646.6" font-size="13.6" textLength="17.70" lengthAdjust="spacingAndGlyphs" fill="#222">130</text>
<text x="787.05" y="646.6" font-size="13.6" textLength="17.70" lengthAdjust="spacingAndGlyphs" fill="#222">140</text>
<text x="839.40" y="646.6" font-size="13.6" textLength="17.70" lengthAdjust="spacingAndGlyphs" fill="#222">150</text>
<text x="891.75" y="646.6" font-size="13.6" textLength="17.70" lengthAdjust="spacingAndGlyphs" fill="#222">160</text>
<text x="944.10" y="646.6" font-size="13.6" textLength="17.70" lengthAdjust="spacingAndGlyphs" fill="#222">170</text>
<text x="996.45" y="646.6" font-size="13.6" textLength="17.70" lengthAdjust="spacingAndGlyphs" fill="#222">180</text>
<text x="1048.80" y="646.6" font-size="13.6" textLength="17.70" lengthAdjust="spacingAndGlyphs" fill="#222">190</text>
<text x="1101.15" y="646.6" font-size="13.6" textLength="17.70" lengthAdjust="spacingAndGlyphs" fill="#222">200</text>
<text x="1153.50" y="646.6" font-size="13.6" textLength="17.70" lengthAdjust="spacingAndGlyphs" fill="#222">210</text>
<text x="1205.85" y="646.6" font-size="13.6" textLength="17.70" lengthAdjust="spacingAndGlyphs" fill="#222">220</text>
<path d="M62,715.3 V730 H1218.2 V715.3" fill="none" stroke="#adadb1" stroke-width="2"/>
<line x1="106" y1="715.3" x2="106" y2="730" stroke="#adadb1" stroke-width="2"/>
<line x1="573" y1="715.3" x2="573" y2="730" stroke="#adadb1" stroke-width="2"/>
<line x1="774.2" y1="715.3" x2="774.2" y2="730" stroke="#adadb1" stroke-width="2"/>
<line x1="1154.2" y1="715.3" x2="1154.2" y2="730" stroke="#adadb1" stroke-width="2"/>
<text x="77.50" y="724.3" font-size="19.8" textLength="15.40" lengthAdjust="spacingAndGlyphs" fill="#a9a9ad">AR</text>
<text x="286.49" y="724.3" font-size="19.8" textLength="16.02" lengthAdjust="spacingAndGlyphs" fill="#a9a9ad">PG</text>
<text x="667.61" y="724.3" font-size="19.8" textLength="14.78" lengthAdjust="spacingAndGlyphs" fill="#a9a9ad">TR</text>
<text x="960.46" y="724.3" font-size="19.8" textLength="11.09" lengthAdjust="spacingAndGlyphs" fill="#a9a9ad">RI</text>
<text x="1178.99" y="724.3" font-size="19.8" textLength="16.02" lengthAdjust="spacingAndGlyphs" fill="#a9a9ad">AQ</text>
<path d="M17.20,350.50 q0,-2.5 2.5,-2.5 H48.90 q2.5,0 2.5,2.5 V551.30 A17.10,17.10 0 0 1 17.20,551.30 Z" fill="url(#bgS)" stroke="#1f9b37" stroke-width="4"/>
<text transform="translate(43.00,525.40) rotate(-90)" font-size="26" font-weight="bold" fill="#1a1a1a" stroke="#1a1a1a" stroke-width="0.45" textLength="162.24" lengthAdjust="spacingAndGlyphs">255 - CORTONA</text>
<circle cx="34.3" cy="551.2" r="14.9" fill="url(#gG)" stroke="#1d1d1d" stroke-width="1.9"/>
<g transform="translate(34.3,551.5)" fill="#fff" stroke="none"><circle cx="-7.9" cy="4.3" r="3.9" fill="none" stroke="#fff" stroke-width="1.7"/><circle cx="7.4" cy="4.4" r="3.9" fill="none" stroke="#fff" stroke-width="1.7"/><path d="M-6.5,-4.5 C-6.5,-7.5 -3.5,-9.5 0,-9.3 L3.5,-8.8 C4.5,-10 6.5,-9.5 6.5,-7.8 C6.5,-6.8 5.8,-6.3 5,-6.2 L6.3,-1.5 L4.8,-1 L2.5,-3.5 L1.5,-2 L3.8,1.8 L1,6.5 L-0.8,6 L0.8,2 L-2.5,0.5 L-4,0.5 C-5.5,-1 -6.5,-2.5 -6.5,-4.5 Z"/><path d="M-7.9,4.3 L-3,1.5 L0.5,4.5 L4.5,0 L7.4,4.4" fill="none" stroke="#fff" stroke-width="1.1"/></g>
<path d="M1229.30,162.70 q0,-2.5 2.5,-2.5 H1261.00 q2.5,0 2.5,2.5 V490.30 A17.10,17.10 0 0 1 1229.30,490.30 Z" fill="url(#bgF)" stroke="#e30613" stroke-width="4"/>
<text transform="translate(1255.60,464.10) rotate(-90)" font-size="26" font-weight="bold" fill="#1a1a1a" stroke="#1a1a1a" stroke-width="0.45" textLength="290.26" lengthAdjust="spacingAndGlyphs">728 - MAGLIANO DE’ MARSI</text>
<circle cx="1246.2" cy="489.8" r="14.9" fill="url(#gR)" stroke="#1d1d1d" stroke-width="1.9"/>
<g transform="translate(1246.2,489.7)" fill="#fff" stroke="none"><circle cx="-7.1" cy="5.7" r="3.9" fill="none" stroke="#fff" stroke-width="1.7"/><circle cx="7.5" cy="5.9" r="3.9" fill="none" stroke="#fff" stroke-width="1.7"/><path d="M-2.6,-15.8 L1.6,-14.8 L2,-10 L0.5,-5.5 L2,-2.5 L6,-3 L7.8,0.5 L5.5,2.5 L3,1 L1.5,6.5 L-1.8,6.8 L-3,2.5 L-5,1 L-5.3,-4 L-4.2,-10 Z"/><path d="M-7.1,5.7 L-2.5,3 L1,5.8 L4.5,2 L7.5,5.9" fill="none" stroke="#fff" stroke-width="1.1"/></g>
<line x1="490" y1="549" x2="490" y2="592" stroke="#222" stroke-width="1.8"/>
<circle cx="490" cy="548.9" r="4.7" fill="#161616" stroke="#fff" stroke-width="1.6"/>
<circle cx="489.8" cy="606.9" r="15.2" fill="url(#gS)" stroke="#173a1e" stroke-width="1"/>
<ellipse cx="490.5" cy="595.5" rx="4.5" ry="2" fill="#9ad8a8" opacity="0.8"/>
<path d="M477.5,600.7 L502.2,600.7 L489.9,620.2 Z" fill="#fff"/>
<line x1="923.5" y1="534" x2="923.5" y2="592" stroke="#222" stroke-width="1.8"/>
<circle cx="923.6" cy="533.8" r="4.7" fill="#161616" stroke="#fff" stroke-width="1.6"/>
<circle cx="923.5" cy="607" r="15.3" fill="url(#gO)" stroke="#2a2a2a" stroke-width="1.1"/>
<text transform="translate(921.4,615.5) skewX(-16) scale(0.88,0.98)" x="0" y="0" font-size="26" font-weight="bold" font-style="italic" text-anchor="middle" fill="#fff" stroke="#2a2a2a" stroke-width="1.7" paint-order="stroke">S</text>
<circle cx="707.3" cy="628.2" r="7.2" fill="#fff" stroke="#1a1a1a" stroke-width="1.2"/>
<path d="M703.2,632.6 V627.0 a3.8,3.8 0 0 1 7.6,0 V632.6" fill="none" stroke="#555" stroke-width="2"/>
<path d="M705,632.6 V628 a2.3,2.3 0 0 1 4.6,0 V632.6 Z" fill="#111"/>
<circle cx="743.9" cy="628.2" r="7.3" fill="#fff" stroke="#1a1a1a" stroke-width="1.2"/>
<line x1="740.2" y1="623.40" x2="747.6" y2="623.40" stroke="#2a2a2a" stroke-width="1.5" stroke-linecap="round"/>
<line x1="740.2" y1="626.20" x2="747.6" y2="626.20" stroke="#2a2a2a" stroke-width="1.5" stroke-linecap="round"/>
<line x1="740.2" y1="629.00" x2="747.6" y2="629.00" stroke="#2a2a2a" stroke-width="1.5" stroke-linecap="round"/>
<line x1="740.2" y1="631.80" x2="747.6" y2="631.80" stroke="#2a2a2a" stroke-width="1.5" stroke-linecap="round"/>
<line x1="740.2" y1="634.40" x2="747.6" y2="634.40" stroke="#2a2a2a" stroke-width="1.5" stroke-linecap="round"/>
<g fill="none" stroke="#111" stroke-width="2.5" stroke-linecap="round" stroke-linejoin="round">
<path d="M1226.4,589.6 C1225.4,593 1225.2,598 1226.4,600.6 C1227.2,602 1228.4,601.8 1229,600.2 L1231.6,591.4 C1232.4,589.6 1234.2,589.8 1235,592 C1235.8,595 1235.2,599.5 1232.6,602.8"/>
<path d="M1231.8,603.8 C1229,605.5 1226,609 1225.4,612.4 L1235.2,612.4 C1235.2,609 1234,605 1231.8,603.8 Z"/>
<path d="M1226.6,616.4 C1225.2,619 1225.2,624 1226.8,626.4 C1227.6,627.6 1228.8,627 1229.2,625.6 L1230.8,618.4 C1231.4,616.4 1233.6,616.4 1234.6,618.6 C1235.6,621 1235,625.6 1232.2,628.4"/>
</g>
</svg>
</body></html>
